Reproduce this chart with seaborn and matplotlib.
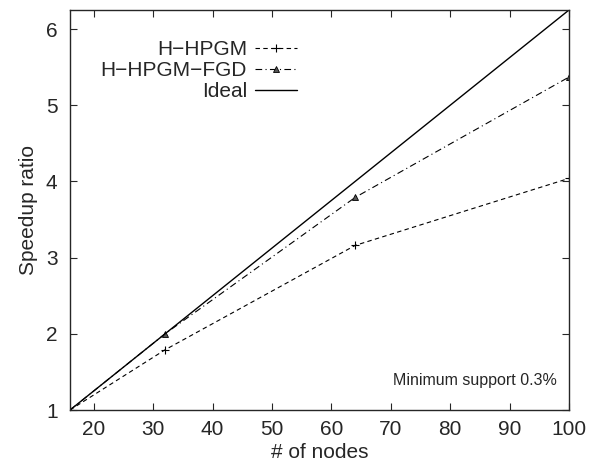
import numpy as np
import pandas as pd
import matplotlib
matplotlib.use('Agg')
import matplotlib.pyplot as plt
import seaborn as sns

# Data
nodes = [16, 32, 64, 100]
hhpgm = [1.0, 1.79, 3.16, 4.04]
hhpgm_fgd = [1.0, 2.0, 3.79, 5.37]
ideal = [1.0, 2.0, 4.0, 6.25]

x_ticks = [20, 30, 40, 50, 60, 70, 80, 90, 100]
y_ticks = [1, 2, 3, 4, 5, 6]

sns.set_style('ticks')
plt.rcParams['font.family'] = ['Liberation Sans', 'DejaVu Sans']
plt.rcParams.update({
    'axes.linewidth': 1.0,
    'xtick.direction': 'in',
    'ytick.direction': 'in',
    'xtick.top': True,
    'ytick.right': True,
    'xtick.major.size': 5,
    'ytick.major.size': 5,
    'xtick.major.pad': 7,
    'ytick.major.pad': 9,
})

fig = plt.figure(figsize=(5.92, 4.65), dpi=100)
ax = fig.add_axes([70 / 592, 1 - 410 / 465, 499 / 592, 400 / 465])

df = pd.DataFrame({'nodes': nodes, 'hhpgm': hhpgm, 'fgd': hhpgm_fgd, 'ideal': ideal})

sns.lineplot(data=df, x='nodes', y='hhpgm', ax=ax, color='black', linewidth=0.8,
             linestyle=(0, (4, 3)), marker='+', markersize=6,
             markeredgecolor='black', markeredgewidth=0.8,
             label='H\u2212HPGM')
sns.lineplot(data=df, x='nodes', y='fgd', ax=ax, color='black', linewidth=0.8,
             linestyle=(0, (6, 3, 1, 3)), marker='^', markersize=4,
             markerfacecolor='#555555', markeredgecolor='black', markeredgewidth=0.6,
             label='H\u2212HPGM\u2212FGD')
sns.lineplot(data=df, x='nodes', y='ideal', ax=ax, color='black', linewidth=1.0,
             label='Ideal')

ax.set_xlim(16, 100)
ax.set_ylim(1, 6.25)
ax.set_xticks(x_ticks)
ax.set_yticks(y_ticks)
ax.tick_params(labelsize=15, width=0.8)
ax.set_xlabel('# of nodes', fontsize=15, labelpad=3)
ax.set_ylabel('Speedup ratio', fontsize=15, labelpad=6)

ax.text(0.975, 0.075, 'Minimum support 0.3%', transform=ax.transAxes,
        ha='right', va='center', fontsize=11.5)

leg = ax.legend(loc='upper right', bbox_to_anchor=(0.455, 0.925), markerfirst=False,
                frameon=False, fontsize=15, handlelength=2.0, handletextpad=0.4,
                labelspacing=0.1, borderaxespad=0, borderpad=0)
for t in leg.get_texts():
    t.set_ha('right')

plt.savefig('out.png', dpi=100)
plt.close()
